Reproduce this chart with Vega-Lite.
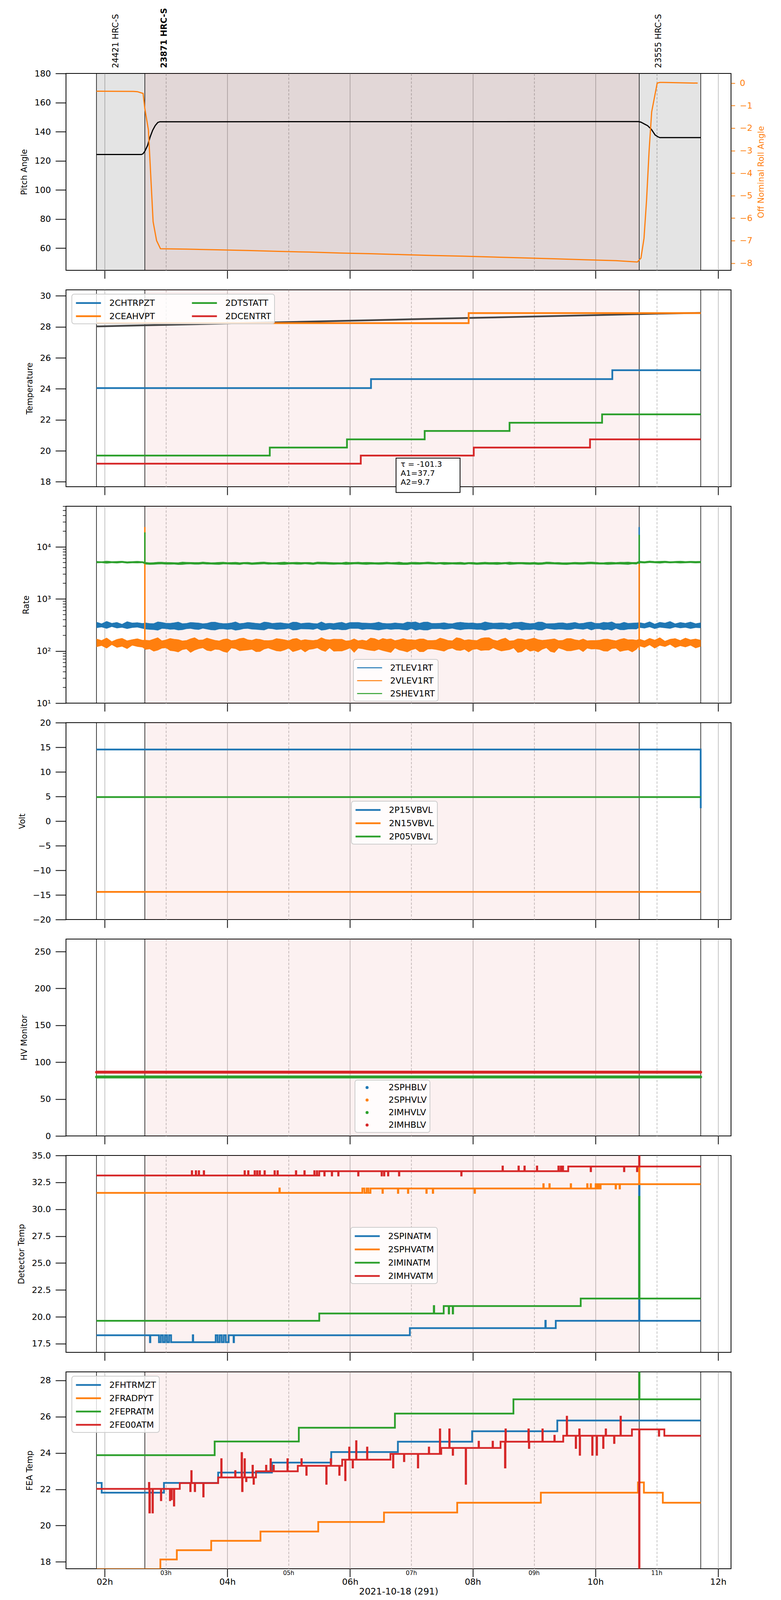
{
  "$schema": "https://vega.github.io/schema/vega-lite/v6.json",
  "background": "white",
  "padding": {"left": 43, "top": 19, "right": 10, "bottom": 0},
  "config": {
    "font": "DejaVu Sans",
    "view": {"stroke": "black", "strokeWidth": 2},
    "axis": {
      "labelFont": "DejaVu Sans", "titleFont": "DejaVu Sans",
      "labelFontSize": 22, "titleFontSize": 21, "titleFontWeight": "normal",
      "labelColor": "black", "titleColor": "black", "tickColor": "black",
      "tickWidth": 2, "domain": false, "grid": false,
      "labelFlush": false, "labelOverlap": false
    },
    "axisY": {"tickSize": 27, "labelPadding": 12, "titlePadding": 16},
    "legend": {
      "labelFont": "DejaVu Sans", "labelFontSize": 22, "labelColor": "black",
      "fillColor": "rgba(255,255,255,0.8)", "strokeColor": "#cccccc", "strokeWidth": 2,
      "cornerRadius": 6, "padding": 8
    }
  },
  "datasets": {
    "obs": [
      {"o": "24421", "lab": "24421 HRC-S", "a": 112, "b": 159.3},
      {"o": "23871", "lab": "23871 HRC-S", "a": 159.3, "b": 642.8},
      {"o": "23555", "lab": "23555 HRC-S", "a": 642.8, "b": 703}
    ],
    "edges": [{"m": 112}, {"m": 159.3}, {"m": 642.8}, {"m": 703}],
    "minorhours": [{"m": 180, "lab": "03h"}, {"m": 300, "lab": "05h"}, {"m": 420, "lab": "07h"}, {"m": 540, "lab": "09h"}, {"m": 660, "lab": "11h"}],
    "logminor": [{"t":20},{"t":30},{"t":40},{"t":50},{"t":60},{"t":70},{"t":80},{"t":90},{"t":200},{"t":300},{"t":400},{"t":500},{"t":600},{"t":700},{"t":800},{"t":900},{"t":2000},{"t":3000},{"t":4000},{"t":5000},{"t":6000},{"t":7000},{"t":8000},{"t":9000},{"t":20000},{"t":30000},{"t":40000},{"t":50000},{"t":60000}],
    "pitch": [
      {"m": 112, "v": 124.3}, {"m": 156, "v": 124.3}, {"m": 157.5, "v": 124.8}, {"m": 159.3, "v": 126.5},
      {"m": 162, "v": 130.5}, {"m": 164.5, "v": 136.4}, {"m": 167, "v": 141}, {"m": 169.5, "v": 144.2},
      {"m": 172, "v": 146.3}, {"m": 174, "v": 146.8}, {"m": 642, "v": 146.9}, {"m": 644.5, "v": 146.5},
      {"m": 648, "v": 145.2}, {"m": 651, "v": 144.1}, {"m": 654.6, "v": 141.7}, {"m": 658.4, "v": 137.7},
      {"m": 661, "v": 136.5}, {"m": 663, "v": 135.9}, {"m": 703, "v": 135.9}
    ],
    "roll": [
      {"m": 112, "v": -0.36}, {"m": 130, "v": -0.365}, {"m": 148, "v": -0.37}, {"m": 152, "v": -0.38},
      {"m": 157.6, "v": -0.46}, {"m": 159.3, "v": -1.13}, {"m": 162.8, "v": -2.08}, {"m": 167.4, "v": -6.16},
      {"m": 170.8, "v": -7.0}, {"m": 174.6, "v": -7.36}, {"m": 200, "v": -7.38}, {"m": 230, "v": -7.41},
      {"m": 260, "v": -7.44}, {"m": 290, "v": -7.48}, {"m": 320, "v": -7.51}, {"m": 350, "v": -7.55},
      {"m": 380, "v": -7.58}, {"m": 410, "v": -7.62}, {"m": 440, "v": -7.66}, {"m": 470, "v": -7.69},
      {"m": 500, "v": -7.73}, {"m": 530, "v": -7.77}, {"m": 560, "v": -7.81}, {"m": 590, "v": -7.85},
      {"m": 620, "v": -7.89}, {"m": 641, "v": -7.95}, {"m": 644.5, "v": -7.78}, {"m": 647.5, "v": -6.9},
      {"m": 650, "v": -5.2}, {"m": 652.5, "v": -3.0}, {"m": 655, "v": -1.28}, {"m": 660.4, "v": 0.0},
      {"m": 663, "v": 0.03}, {"m": 666.5, "v": 0.03}, {"m": 700, "v": 0.0}
    ],
    "p2": [
      {"m": 112, "s": "2CHTRPZT", "v": 24.05}, {"m": 380.5, "s": "2CHTRPZT", "v": 24.63}, {"m": 616.5, "s": "2CHTRPZT", "v": 25.2}, {"m": 703, "s": "2CHTRPZT", "v": 25.2},
      {"m": 112, "s": "2CEAHVPT", "v": 28.24}, {"m": 476, "s": "2CEAHVPT", "v": 28.89}, {"m": 703, "s": "2CEAHVPT", "v": 28.89},
      {"m": 112, "s": "2DTSTATT", "v": 19.69}, {"m": 281.5, "s": "2DTSTATT", "v": 20.21}, {"m": 357, "s": "2DTSTATT", "v": 20.74}, {"m": 433, "s": "2DTSTATT", "v": 21.28}, {"m": 516, "s": "2DTSTATT", "v": 21.81}, {"m": 606.5, "s": "2DTSTATT", "v": 22.35}, {"m": 703, "s": "2DTSTATT", "v": 22.35},
      {"m": 112, "s": "2DCENTRT", "v": 19.17}, {"m": 370.5, "s": "2DCENTRT", "v": 19.69}, {"m": 481, "s": "2DCENTRT", "v": 20.21}, {"m": 594.7, "s": "2DCENTRT", "v": 20.74}, {"m": 703, "s": "2DCENTRT", "v": 20.74}
    ],
    "p2fit": [
      {"m": 112, "v": 28.03}, {"m": 160, "v": 28.1}, {"m": 240, "v": 28.22}, {"m": 300, "v": 28.31},
      {"m": 360, "v": 28.4}, {"m": 420, "v": 28.49}, {"m": 480, "v": 28.58}, {"m": 540, "v": 28.67},
      {"m": 600, "v": 28.76}, {"m": 660, "v": 28.85}, {"m": 703, "v": 28.9}
    ],
    "p2note": [
      {"m0": 405, "m1": 467.6, "y0": 17.31, "y1": 19.53, "tx": 409.5, "ty": 19.36, "txt": "τ = -101.3\nA1=37.7\nA2=9.7"}
    ],
    "p3": [
      {"m":112,"bl":276,"bh":360,"ol":119,"oh":171,"gl":4860,"gh":5300},
      {"m":117,"bl":287,"bh":335,"ol":126,"oh":160,"gl":4910,"gh":5220},
      {"m":122,"bl":268,"bh":372,"ol":112,"oh":179,"gl":4790,"gh":5360},
      {"m":127,"bl":291,"bh":342,"ol":131,"oh":152,"gl":4880,"gh":5250},
      {"m":132,"bl":273,"bh":356,"ol":116,"oh":168,"gl":4830,"gh":5280},
      {"m":137,"bl":281,"bh":328,"ol":122,"oh":176,"gl":4920,"gh":5330},
      {"m":142,"bl":266,"bh":368,"ol":110,"oh":158,"gl":4800,"gh":5200},
      {"m":147,"bl":279,"bh":347,"ol":128,"oh":166,"gl":4870,"gh":5260},
      {"m":152,"bl":284,"bh":352,"ol":121,"oh":173,"gl":4850,"gh":5310},
      {"m":157,"bl":270,"bh":340,"ol":117,"oh":162,"gl":4890,"gh":5240},
      {"m":160,"bl":262,"bh":348,"ol":106,"oh":162,"gl":4600,"gh":5060},
      {"m":164,"bl":257,"bh":339,"ol":109,"oh":160,"gl":4550,"gh":4980},
      {"m":168,"bl":255,"bh":338,"ol":98,"oh":170,"gl":4560,"gh":5010},
      {"m":172,"bl":248,"bh":364,"ol":103,"oh":181,"gl":4620,"gh":5100},
      {"m":176,"bl":268,"bh":356,"ol":112,"oh":158,"gl":4640,"gh":5110},
      {"m":180,"bl":266,"bh":343,"ol":114,"oh":164,"gl":4570,"gh":5040},
      {"m":184,"bl":258,"bh":342,"ol":101,"oh":175,"gl":4580,"gh":5040},
      {"m":188,"bl":260,"bh":350,"ol":99,"oh":169,"gl":4600,"gh":5010},
      {"m":192,"bl":250,"bh":362,"ol":95,"oh":166,"gl":4530,"gh":4990},
      {"m":196,"bl":254,"bh":337,"ol":105,"oh":157,"gl":4540,"gh":5120},
      {"m":200,"bl":265,"bh":340,"ol":109,"oh":160,"gl":4620,"gh":5080},
      {"m":204,"bl":269,"bh":355,"ol":93,"oh":172,"gl":4630,"gh":5060},
      {"m":208,"bl":259,"bh":351,"ol":103,"oh":181,"gl":4570,"gh":5030},
      {"m":212,"bl":256,"bh":346,"ol":110,"oh":163,"gl":4580,"gh":5030},
      {"m":216,"bl":271,"bh":336,"ol":114,"oh":164,"gl":4650,"gh":5130},
      {"m":220,"bl":262,"bh":341,"ol":102,"oh":178,"gl":4600,"gh":5060},
      {"m":224,"bl":253,"bh":358,"ol":99,"oh":169,"gl":4590,"gh":5000},
      {"m":228,"bl":251,"bh":360,"ol":107,"oh":161,"gl":4560,"gh":5010},
      {"m":232,"bl":263,"bh":345,"ol":105,"oh":157,"gl":4540,"gh":5070},
      {"m":236,"bl":264,"bh":338,"ol":97,"oh":168,"gl":4640,"gh":5110},
      {"m":240,"bl":257,"bh":339,"ol":93,"oh":172,"gl":4610,"gh":5020},
      {"m":244,"bl":262,"bh":348,"ol":113,"oh":159,"gl":4580,"gh":5040},
      {"m":248,"bl":248,"bh":364,"ol":110,"oh":163,"gl":4580,"gh":5090},
      {"m":252,"bl":255,"bh":338,"ol":100,"oh":174,"gl":4530,"gh":4990},
      {"m":256,"bl":266,"bh":343,"ol":102,"oh":178,"gl":4660,"gh":5050},
      {"m":260,"bl":268,"bh":356,"ol":104,"oh":165,"gl":4620,"gh":5080},
      {"m":264,"bl":260,"bh":350,"ol":107,"oh":161,"gl":4550,"gh":4980},
      {"m":268,"bl":258,"bh":342,"ol":96,"oh":171,"gl":4570,"gh":5030},
      {"m":272,"bl":254,"bh":337,"ol":97,"oh":168,"gl":4620,"gh":5100},
      {"m":276,"bl":250,"bh":362,"ol":108,"oh":160,"gl":4650,"gh":5130},
      {"m":280,"bl":269,"bh":355,"ol":113,"oh":159,"gl":4570,"gh":5040},
      {"m":284,"bl":265,"bh":340,"ol":106,"oh":162,"gl":4590,"gh":5000},
      {"m":288,"bl":256,"bh":346,"ol":100,"oh":174,"gl":4600,"gh":5010},
      {"m":292,"bl":259,"bh":351,"ol":98,"oh":170,"gl":4540,"gh":5070},
      {"m":296,"bl":262,"bh":341,"ol":104,"oh":165,"gl":4540,"gh":5120},
      {"m":300,"bl":271,"bh":336,"ol":112,"oh":158,"gl":4610,"gh":5020},
      {"m":304,"bl":251,"bh":360,"ol":96,"oh":171,"gl":4630,"gh":5060},
      {"m":308,"bl":253,"bh":358,"ol":101,"oh":175,"gl":4580,"gh":5090},
      {"m":312,"bl":264,"bh":338,"ol":108,"oh":160,"gl":4580,"gh":5030},
      {"m":316,"bl":263,"bh":345,"ol":95,"oh":166,"gl":4660,"gh":5050},
      {"m":320,"bl":262,"bh":348,"ol":106,"oh":162,"gl":4600,"gh":5060},
      {"m":324,"bl":257,"bh":339,"ol":109,"oh":160,"gl":4550,"gh":4980},
      {"m":328,"bl":271,"bh":336,"ol":114,"oh":164,"gl":4650,"gh":5130},
      {"m":332,"bl":248,"bh":364,"ol":103,"oh":181,"gl":4620,"gh":5100},
      {"m":336,"bl":254,"bh":337,"ol":97,"oh":168,"gl":4620,"gh":5100},
      {"m":340,"bl":266,"bh":343,"ol":114,"oh":164,"gl":4570,"gh":5040},
      {"m":344,"bl":255,"bh":338,"ol":98,"oh":170,"gl":4560,"gh":5010},
      {"m":348,"bl":260,"bh":350,"ol":99,"oh":169,"gl":4600,"gh":5010},
      {"m":352,"bl":253,"bh":358,"ol":99,"oh":169,"gl":4590,"gh":5000},
      {"m":356,"bl":254,"bh":337,"ol":105,"oh":157,"gl":4540,"gh":5120},
      {"m":360,"bl":269,"bh":355,"ol":113,"oh":159,"gl":4570,"gh":5040},
      {"m":364,"bl":269,"bh":355,"ol":93,"oh":172,"gl":4630,"gh":5060},
      {"m":368,"bl":268,"bh":356,"ol":112,"oh":158,"gl":4640,"gh":5110},
      {"m":372,"bl":256,"bh":346,"ol":110,"oh":163,"gl":4580,"gh":5030},
      {"m":376,"bl":263,"bh":345,"ol":105,"oh":157,"gl":4540,"gh":5070},
      {"m":380,"bl":262,"bh":341,"ol":102,"oh":178,"gl":4600,"gh":5060},
      {"m":384,"bl":256,"bh":346,"ol":100,"oh":174,"gl":4600,"gh":5010},
      {"m":388,"bl":251,"bh":360,"ol":107,"oh":161,"gl":4560,"gh":5010},
      {"m":392,"bl":258,"bh":342,"ol":101,"oh":175,"gl":4580,"gh":5040},
      {"m":396,"bl":264,"bh":338,"ol":97,"oh":168,"gl":4640,"gh":5110},
      {"m":400,"bl":257,"bh":339,"ol":93,"oh":172,"gl":4610,"gh":5020},
      {"m":404,"bl":262,"bh":348,"ol":113,"oh":159,"gl":4580,"gh":5040},
      {"m":408,"bl":262,"bh":341,"ol":104,"oh":165,"gl":4540,"gh":5120},
      {"m":412,"bl":255,"bh":338,"ol":100,"oh":174,"gl":4530,"gh":4990},
      {"m":416,"bl":250,"bh":362,"ol":95,"oh":166,"gl":4530,"gh":4990},
      {"m":420,"bl":268,"bh":356,"ol":104,"oh":165,"gl":4620,"gh":5080},
      {"m":424,"bl":248,"bh":364,"ol":110,"oh":163,"gl":4580,"gh":5090},
      {"m":428,"bl":258,"bh":342,"ol":96,"oh":171,"gl":4570,"gh":5030},
      {"m":432,"bl":251,"bh":360,"ol":96,"oh":171,"gl":4630,"gh":5060},
      {"m":436,"bl":250,"bh":362,"ol":108,"oh":160,"gl":4650,"gh":5130},
      {"m":440,"bl":265,"bh":340,"ol":109,"oh":160,"gl":4620,"gh":5080},
      {"m":444,"bl":265,"bh":340,"ol":106,"oh":162,"gl":4590,"gh":5000},
      {"m":448,"bl":266,"bh":343,"ol":102,"oh":178,"gl":4660,"gh":5050},
      {"m":452,"bl":259,"bh":351,"ol":98,"oh":170,"gl":4540,"gh":5070},
      {"m":456,"bl":264,"bh":338,"ol":108,"oh":160,"gl":4580,"gh":5030},
      {"m":460,"bl":271,"bh":336,"ol":112,"oh":158,"gl":4610,"gh":5020},
      {"m":464,"bl":259,"bh":351,"ol":103,"oh":181,"gl":4570,"gh":5030},
      {"m":468,"bl":253,"bh":358,"ol":101,"oh":175,"gl":4580,"gh":5090},
      {"m":472,"bl":260,"bh":350,"ol":107,"oh":161,"gl":4550,"gh":4980},
      {"m":476,"bl":263,"bh":345,"ol":95,"oh":166,"gl":4660,"gh":5050},
      {"m":480,"bl":262,"bh":348,"ol":106,"oh":162,"gl":4600,"gh":5060},
      {"m":484,"bl":257,"bh":339,"ol":109,"oh":160,"gl":4550,"gh":4980},
      {"m":488,"bl":258,"bh":342,"ol":101,"oh":175,"gl":4580,"gh":5040},
      {"m":492,"bl":248,"bh":364,"ol":103,"oh":181,"gl":4620,"gh":5100},
      {"m":496,"bl":259,"bh":351,"ol":103,"oh":181,"gl":4570,"gh":5030},
      {"m":500,"bl":266,"bh":343,"ol":114,"oh":164,"gl":4570,"gh":5040},
      {"m":504,"bl":263,"bh":345,"ol":105,"oh":157,"gl":4540,"gh":5070},
      {"m":508,"bl":260,"bh":350,"ol":99,"oh":169,"gl":4600,"gh":5010},
      {"m":512,"bl":266,"bh":343,"ol":102,"oh":178,"gl":4660,"gh":5050},
      {"m":516,"bl":254,"bh":337,"ol":105,"oh":157,"gl":4540,"gh":5120},
      {"m":520,"bl":269,"bh":355,"ol":113,"oh":159,"gl":4570,"gh":5040},
      {"m":524,"bl":269,"bh":355,"ol":93,"oh":172,"gl":4630,"gh":5060},
      {"m":528,"bl":251,"bh":360,"ol":96,"oh":171,"gl":4630,"gh":5060},
      {"m":532,"bl":256,"bh":346,"ol":110,"oh":163,"gl":4580,"gh":5030},
      {"m":536,"bl":255,"bh":338,"ol":98,"oh":170,"gl":4560,"gh":5010},
      {"m":540,"bl":262,"bh":341,"ol":102,"oh":178,"gl":4600,"gh":5060},
      {"m":544,"bl":250,"bh":362,"ol":95,"oh":166,"gl":4530,"gh":4990},
      {"m":548,"bl":251,"bh":360,"ol":107,"oh":161,"gl":4560,"gh":5010},
      {"m":552,"bl":271,"bh":336,"ol":114,"oh":164,"gl":4650,"gh":5130},
      {"m":556,"bl":264,"bh":338,"ol":97,"oh":168,"gl":4640,"gh":5110},
      {"m":560,"bl":257,"bh":339,"ol":93,"oh":172,"gl":4610,"gh":5020},
      {"m":564,"bl":262,"bh":348,"ol":113,"oh":159,"gl":4580,"gh":5040},
      {"m":568,"bl":260,"bh":350,"ol":107,"oh":161,"gl":4550,"gh":4980},
      {"m":572,"bl":255,"bh":338,"ol":100,"oh":174,"gl":4530,"gh":4990},
      {"m":576,"bl":256,"bh":346,"ol":100,"oh":174,"gl":4600,"gh":5010},
      {"m":580,"bl":268,"bh":356,"ol":104,"oh":165,"gl":4620,"gh":5080},
      {"m":584,"bl":264,"bh":338,"ol":108,"oh":160,"gl":4580,"gh":5030},
      {"m":588,"bl":258,"bh":342,"ol":96,"oh":171,"gl":4570,"gh":5030},
      {"m":592,"bl":268,"bh":356,"ol":112,"oh":158,"gl":4640,"gh":5110},
      {"m":596,"bl":250,"bh":362,"ol":108,"oh":160,"gl":4650,"gh":5130},
      {"m":600,"bl":265,"bh":340,"ol":109,"oh":160,"gl":4620,"gh":5080},
      {"m":604,"bl":265,"bh":340,"ol":106,"oh":162,"gl":4590,"gh":5000},
      {"m":608,"bl":253,"bh":358,"ol":99,"oh":169,"gl":4590,"gh":5000},
      {"m":612,"bl":259,"bh":351,"ol":98,"oh":170,"gl":4540,"gh":5070},
      {"m":616,"bl":248,"bh":364,"ol":110,"oh":163,"gl":4580,"gh":5090},
      {"m":620,"bl":271,"bh":336,"ol":112,"oh":158,"gl":4610,"gh":5020},
      {"m":624,"bl":254,"bh":337,"ol":97,"oh":168,"gl":4620,"gh":5100},
      {"m":628,"bl":253,"bh":358,"ol":101,"oh":175,"gl":4580,"gh":5090},
      {"m":632,"bl":262,"bh":341,"ol":104,"oh":165,"gl":4540,"gh":5120},
      {"m":636,"bl":263,"bh":345,"ol":95,"oh":166,"gl":4660,"gh":5050},
      {"m":640,"bl":262,"bh":348,"ol":106,"oh":162,"gl":4600,"gh":5060},
      {"m":643,"bl":280,"bh":352,"ol":124,"oh":170,"gl":4880,"gh":5320},
      {"m":648,"bl":272,"bh":338,"ol":116,"oh":158,"gl":4830,"gh":5240},
      {"m":653,"bl":288,"bh":366,"ol":130,"oh":176,"gl":4920,"gh":5380},
      {"m":658,"bl":266,"bh":330,"ol":112,"oh":163,"gl":4860,"gh":5270},
      {"m":663,"bl":283,"bh":358,"ol":127,"oh":181,"gl":4800,"gh":5300},
      {"m":668,"bl":276,"bh":345,"ol":120,"oh":155,"gl":4900,"gh":5350},
      {"m":673,"bl":269,"bh":371,"ol":133,"oh":169,"gl":4850,"gh":5230},
      {"m":678,"bl":286,"bh":334,"ol":115,"oh":174,"gl":4890,"gh":5290},
      {"m":683,"bl":274,"bh":355,"ol":125,"oh":160,"gl":4820,"gh":5340},
      {"m":688,"bl":281,"bh":342,"ol":118,"oh":178,"gl":4870,"gh":5260},
      {"m":693,"bl":267,"bh":362,"ol":128,"oh":165,"gl":4910,"gh":5310},
      {"m":698,"bl":279,"bh":336,"ol":113,"oh":171,"gl":4840,"gh":5280},
      {"m":703,"bl":275,"bh":350,"ol":122,"oh":162,"gl":4880,"gh":5300}
    ],
    "p3spk": [
      {"m0": 642.1, "m1": 643.5, "s": "2TLEV1RT", "lo": 300, "hi": 24000},
      {"m0": 158.6, "m1": 160.0, "s": "2VLEV1RT", "lo": 110, "hi": 24000},
      {"m0": 642.1, "m1": 643.5, "s": "2VLEV1RT", "lo": 105, "hi": 4800},
      {"m0": 158.6, "m1": 160.0, "s": "2SHEV1RT", "lo": 4700, "hi": 19000},
      {"m0": 642.1, "m1": 643.5, "s": "2SHEV1RT", "lo": 4700, "hi": 17000}
    ],
    "p4": [
      {"m": 112, "s": "2P15VBVL", "v": 14.55}, {"m": 702.9, "s": "2P15VBVL", "v": 14.55}, {"m": 703, "s": "2P15VBVL", "v": 2.62},
      {"m": 112, "s": "2N15VBVL", "v": -14.38}, {"m": 703, "s": "2N15VBVL", "v": -14.38},
      {"m": 112, "s": "2P05VBVL", "v": 4.88}, {"m": 703, "s": "2P05VBVL", "v": 4.88}
    ],
    "p5": [
      {"m": 112, "s": "2IMHVLV", "v": 80}, {"m": 703, "s": "2IMHVLV", "v": 80},
      {"m": 112, "s": "2IMHBLV", "v": 86.5}, {"m": 703, "s": "2IMHBLV", "v": 86.5}
    ],
    "p6": [
      {"m":112,"s":"2SPINATM","v":18.29},{"m":164.3,"s":"2SPINATM","v":17.64},{"m":164.7,"s":"2SPINATM","v":18.29},{"m":173.1,"s":"2SPINATM","v":17.64},{"m":175,"s":"2SPINATM","v":18.29},{"m":177,"s":"2SPINATM","v":17.64},{"m":179,"s":"2SPINATM","v":18.29},{"m":181,"s":"2SPINATM","v":17.64},{"m":183,"s":"2SPINATM","v":18.29},{"m":185,"s":"2SPINATM","v":17.64},{"m":206.2,"s":"2SPINATM","v":18.29},{"m":206.6,"s":"2SPINATM","v":17.64},{"m":228.6,"s":"2SPINATM","v":18.29},{"m":230.5,"s":"2SPINATM","v":17.64},{"m":232.5,"s":"2SPINATM","v":18.29},{"m":234.5,"s":"2SPINATM","v":17.64},{"m":236.5,"s":"2SPINATM","v":18.29},{"m":238.5,"s":"2SPINATM","v":17.64},{"m":241.3,"s":"2SPINATM","v":18.29},{"m":246.1,"s":"2SPINATM","v":17.64},{"m":246.5,"s":"2SPINATM","v":18.29},{"m":418.5,"s":"2SPINATM","v":18.95},{"m":551,"s":"2SPINATM","v":19.63},{"m":551.4,"s":"2SPINATM","v":18.95},{"m":561.2,"s":"2SPINATM","v":19.63},{"m":642.7,"s":"2SPINATM","v":32.2},{"m":643.1,"s":"2SPINATM","v":19.63},{"m":703,"s":"2SPINATM","v":19.63},
      {"m":112,"s":"2SPHVATM","v":31.52},{"m":290.9,"s":"2SPHVATM","v":31.93},{"m":291.3,"s":"2SPHVATM","v":31.52},{"m":372,"s":"2SPHVATM","v":31.93},{"m":374,"s":"2SPHVATM","v":31.52},{"m":376.2,"s":"2SPHVATM","v":31.93},{"m":378,"s":"2SPHVATM","v":31.52},{"m":380,"s":"2SPHVATM","v":31.93},{"m":391.7,"s":"2SPHVATM","v":31.52},{"m":392.1,"s":"2SPHVATM","v":31.93},{"m":406.8,"s":"2SPHVATM","v":31.52},{"m":407.2,"s":"2SPHVATM","v":31.93},{"m":416.6,"s":"2SPHVATM","v":31.52},{"m":417,"s":"2SPHVATM","v":31.93},{"m":434.6,"s":"2SPHVATM","v":31.52},{"m":435,"s":"2SPHVATM","v":31.93},{"m":440.9,"s":"2SPHVATM","v":31.52},{"m":441.3,"s":"2SPHVATM","v":31.93},{"m":481.8,"s":"2SPHVATM","v":31.52},{"m":482.2,"s":"2SPHVATM","v":31.93},{"m":549,"s":"2SPHVATM","v":32.33},{"m":549.4,"s":"2SPHVATM","v":31.93},{"m":554.9,"s":"2SPHVATM","v":32.33},{"m":555.3,"s":"2SPHVATM","v":31.93},{"m":575.8,"s":"2SPHVATM","v":32.33},{"m":576.2,"s":"2SPHVATM","v":31.93},{"m":591.9,"s":"2SPHVATM","v":32.33},{"m":592.3,"s":"2SPHVATM","v":31.93},{"m":595.3,"s":"2SPHVATM","v":32.33},{"m":595.7,"s":"2SPHVATM","v":31.93},{"m":600.2,"s":"2SPHVATM","v":32.33},{"m":600.6,"s":"2SPHVATM","v":31.93},{"m":602,"s":"2SPHVATM","v":32.33},{"m":603.5,"s":"2SPHVATM","v":31.93},{"m":605.1,"s":"2SPHVATM","v":32.33},{"m":619.7,"s":"2SPHVATM","v":31.93},{"m":620.1,"s":"2SPHVATM","v":32.33},{"m":623.6,"s":"2SPHVATM","v":31.93},{"m":624,"s":"2SPHVATM","v":32.33},{"m":642.7,"s":"2SPHVATM","v":33.82},{"m":643.1,"s":"2SPHVATM","v":32.33},{"m":703,"s":"2SPHVATM","v":32.33},
      {"m":112,"s":"2IMINATM","v":19.63},{"m":329.9,"s":"2IMINATM","v":20.31},{"m":441.9,"s":"2IMINATM","v":21.0},{"m":442.3,"s":"2IMINATM","v":20.31},{"m":451.6,"s":"2IMINATM","v":21.0},{"m":456.5,"s":"2IMINATM","v":20.31},{"m":456.9,"s":"2IMINATM","v":21.0},{"m":460.4,"s":"2IMINATM","v":20.31},{"m":460.8,"s":"2IMINATM","v":21.0},{"m":585.6,"s":"2IMINATM","v":21.7},{"m":642.7,"s":"2IMINATM","v":31.15},{"m":643.1,"s":"2IMINATM","v":21.7},{"m":703,"s":"2IMINATM","v":21.7},
      {"m":112,"s":"2IMHVATM","v":33.14},
      {"m":205.2,"s":"2IMHVATM","v":33.54},{"m":205.6,"s":"2IMHVATM","v":33.14},{"m":209.1,"s":"2IMHVATM","v":33.54},{"m":209.5,"s":"2IMHVATM","v":33.14},{"m":212,"s":"2IMHVATM","v":33.54},{"m":212.4,"s":"2IMHVATM","v":33.14},{"m":216.9,"s":"2IMHVATM","v":33.54},{"m":217.3,"s":"2IMHVATM","v":33.14},
      {"m":256.8,"s":"2IMHVATM","v":33.54},{"m":257.2,"s":"2IMHVATM","v":33.14},{"m":260.3,"s":"2IMHVATM","v":33.54},{"m":260.7,"s":"2IMHVATM","v":33.14},{"m":266.6,"s":"2IMHVATM","v":33.54},{"m":267,"s":"2IMHVATM","v":33.14},{"m":269,"s":"2IMHVATM","v":33.54},{"m":269.4,"s":"2IMHVATM","v":33.14},{"m":271.5,"s":"2IMHVATM","v":33.54},{"m":271.9,"s":"2IMHVATM","v":33.14},{"m":276.3,"s":"2IMHVATM","v":33.54},{"m":276.7,"s":"2IMHVATM","v":33.14},
      {"m":286.1,"s":"2IMHVATM","v":33.54},{"m":286.5,"s":"2IMHVATM","v":33.14},{"m":289,"s":"2IMHVATM","v":33.54},{"m":289.4,"s":"2IMHVATM","v":33.14},{"m":307,"s":"2IMHVATM","v":33.54},{"m":307.4,"s":"2IMHVATM","v":33.14},{"m":315.3,"s":"2IMHVATM","v":33.54},{"m":315.7,"s":"2IMHVATM","v":33.14},{"m":325,"s":"2IMHVATM","v":33.54},{"m":325.4,"s":"2IMHVATM","v":33.14},{"m":327.5,"s":"2IMHVATM","v":33.54},{"m":327.9,"s":"2IMHVATM","v":33.14},
      {"m":329.9,"s":"2IMHVATM","v":33.54},
      {"m":334.8,"s":"2IMHVATM","v":33.14},{"m":335.2,"s":"2IMHVATM","v":33.54},{"m":342.1,"s":"2IMHVATM","v":33.14},{"m":342.5,"s":"2IMHVATM","v":33.54},{"m":348.4,"s":"2IMHVATM","v":33.14},{"m":348.8,"s":"2IMHVATM","v":33.54},{"m":367.9,"s":"2IMHVATM","v":33.14},{"m":368.3,"s":"2IMHVATM","v":33.54},{"m":390.8,"s":"2IMHVATM","v":33.14},{"m":391.2,"s":"2IMHVATM","v":33.54},{"m":393.2,"s":"2IMHVATM","v":33.14},{"m":393.6,"s":"2IMHVATM","v":33.54},{"m":397.1,"s":"2IMHVATM","v":33.14},{"m":397.5,"s":"2IMHVATM","v":33.54},{"m":407.8,"s":"2IMHVATM","v":33.14},{"m":408.2,"s":"2IMHVATM","v":33.54},{"m":468.7,"s":"2IMHVATM","v":33.14},{"m":469.1,"s":"2IMHVATM","v":33.54},
      {"m":509.1,"s":"2IMHVATM","v":33.97},{"m":509.5,"s":"2IMHVATM","v":33.54},{"m":524.7,"s":"2IMHVATM","v":33.97},{"m":525.1,"s":"2IMHVATM","v":33.54},{"m":530.5,"s":"2IMHVATM","v":33.97},{"m":530.9,"s":"2IMHVATM","v":33.54},{"m":542.7,"s":"2IMHVATM","v":33.97},{"m":543.1,"s":"2IMHVATM","v":33.54},{"m":563.7,"s":"2IMHVATM","v":33.97},{"m":564.1,"s":"2IMHVATM","v":33.54},{"m":566,"s":"2IMHVATM","v":33.97},{"m":566.4,"s":"2IMHVATM","v":33.54},{"m":568,"s":"2IMHVATM","v":33.97},{"m":568.4,"s":"2IMHVATM","v":33.54},
      {"m":573.4,"s":"2IMHVATM","v":33.97},
      {"m":595.3,"s":"2IMHVATM","v":33.54},{"m":595.7,"s":"2IMHVATM","v":33.97},{"m":627.9,"s":"2IMHVATM","v":33.54},{"m":628.3,"s":"2IMHVATM","v":33.97},{"m":640.6,"s":"2IMHVATM","v":33.54},{"m":641,"s":"2IMHVATM","v":33.97},
      {"m":642.7,"s":"2IMHVATM","v":35.5},{"m":643.1,"s":"2IMHVATM","v":33.97},{"m":703,"s":"2IMHVATM","v":33.97}
    ],
    "p7": [
      {"m":112,"s":"2FHTRMZT","v":22.35},{"m":117.1,"s":"2FHTRMZT","v":21.81},{"m":178,"s":"2FHTRMZT","v":22.35},{"m":231,"s":"2FHTRMZT","v":22.92},{"m":283.6,"s":"2FHTRMZT","v":23.47},{"m":341.6,"s":"2FHTRMZT","v":24.05},{"m":406.8,"s":"2FHTRMZT","v":24.62},{"m":479.4,"s":"2FHTRMZT","v":25.2},{"m":562.7,"s":"2FHTRMZT","v":25.79},{"m":703,"s":"2FHTRMZT","v":25.79},
      {"m":112,"s":"2FRADPYT","v":17.6},{"m":174.5,"s":"2FRADPYT","v":18.13},{"m":190.6,"s":"2FRADPYT","v":18.64},{"m":224.2,"s":"2FRADPYT","v":19.16},{"m":272.4,"s":"2FRADPYT","v":19.67},{"m":328.9,"s":"2FRADPYT","v":20.2},{"m":393.2,"s":"2FRADPYT","v":20.72},{"m":464.8,"s":"2FRADPYT","v":21.26},{"m":546.6,"s":"2FRADPYT","v":21.81},{"m":641.6,"s":"2FRADPYT","v":22.38},{"m":647.4,"s":"2FRADPYT","v":21.81},{"m":665.9,"s":"2FRADPYT","v":21.26},{"m":703,"s":"2FRADPYT","v":21.26},
      {"m":112,"s":"2FEPRATM","v":23.88},{"m":227.6,"s":"2FEPRATM","v":24.63},{"m":309.9,"s":"2FEPRATM","v":25.39},{"m":403.9,"s":"2FEPRATM","v":26.17},{"m":519.8,"s":"2FEPRATM","v":26.96},{"m":642.7,"s":"2FEPRATM","v":30},{"m":643.1,"s":"2FEPRATM","v":26.96},{"m":703,"s":"2FEPRATM","v":26.96},
      {"m":112,"s":"2FE00ATM","v":22.02},{"m":163.3,"s":"2FE00ATM","v":22.35},{"m":163.7,"s":"2FE00ATM","v":20.72},{"m":164.3,"s":"2FE00ATM","v":22.02},{"m":166.8,"s":"2FE00ATM","v":20.72},{"m":167.2,"s":"2FE00ATM","v":22.02},{"m":175,"s":"2FE00ATM","v":21.4},{"m":175.4,"s":"2FE00ATM","v":22.02},{"m":183.8,"s":"2FE00ATM","v":21.4},{"m":184.2,"s":"2FE00ATM","v":22.02},{"m":185.3,"s":"2FE00ATM","v":21.45},{"m":185.7,"s":"2FE00ATM","v":22.02},{"m":187.7,"s":"2FE00ATM","v":21.1},{"m":188.1,"s":"2FE00ATM","v":22.02},
      {"m":193.5,"s":"2FE00ATM","v":22.34},{"m":203.7,"s":"2FE00ATM","v":21.9},{"m":204.1,"s":"2FE00ATM","v":22.34},{"m":204.7,"s":"2FE00ATM","v":23.0},{"m":205.1,"s":"2FE00ATM","v":22.34},{"m":208.1,"s":"2FE00ATM","v":21.9},{"m":208.5,"s":"2FE00ATM","v":22.34},{"m":216.4,"s":"2FE00ATM","v":21.6},{"m":216.8,"s":"2FE00ATM","v":22.34},
      {"m":231,"s":"2FE00ATM","v":22.65},{"m":234,"s":"2FE00ATM","v":23.66},{"m":234.4,"s":"2FE00ATM","v":22.65},{"m":247.6,"s":"2FE00ATM","v":23.0},{"m":248,"s":"2FE00ATM","v":22.65},{"m":253.9,"s":"2FE00ATM","v":24.0},{"m":254.4,"s":"2FE00ATM","v":21.9},{"m":254.9,"s":"2FE00ATM","v":22.65},{"m":256.8,"s":"2FE00ATM","v":23.66},{"m":257.2,"s":"2FE00ATM","v":22.65},{"m":258.3,"s":"2FE00ATM","v":22.45},{"m":258.7,"s":"2FE00ATM","v":22.65},{"m":264.6,"s":"2FE00ATM","v":23.3},{"m":265,"s":"2FE00ATM","v":22.65},{"m":265.6,"s":"2FE00ATM","v":22.3},{"m":266,"s":"2FE00ATM","v":22.65},
      {"m":268,"s":"2FE00ATM","v":22.99},{"m":277.8,"s":"2FE00ATM","v":23.3},{"m":278.2,"s":"2FE00ATM","v":22.99},{"m":282.2,"s":"2FE00ATM","v":23.66},{"m":282.6,"s":"2FE00ATM","v":22.99},{"m":285.1,"s":"2FE00ATM","v":23.3},{"m":285.5,"s":"2FE00ATM","v":22.99},{"m":298.7,"s":"2FE00ATM","v":23.66},{"m":299.1,"s":"2FE00ATM","v":22.99},
      {"m":308.9,"s":"2FE00ATM","v":23.29},{"m":312.4,"s":"2FE00ATM","v":23.66},{"m":312.8,"s":"2FE00ATM","v":23.29},{"m":317.2,"s":"2FE00ATM","v":22.8},{"m":317.6,"s":"2FE00ATM","v":23.29},{"m":336.7,"s":"2FE00ATM","v":22.3},{"m":337.1,"s":"2FE00ATM","v":23.29},{"m":341.1,"s":"2FE00ATM","v":23.66},{"m":341.5,"s":"2FE00ATM","v":23.29},{"m":349.4,"s":"2FE00ATM","v":22.8},{"m":349.8,"s":"2FE00ATM","v":23.29},
      {"m":352.3,"s":"2FE00ATM","v":23.63},{"m":355.2,"s":"2FE00ATM","v":22.5},{"m":355.6,"s":"2FE00ATM","v":23.63},{"m":359.1,"s":"2FE00ATM","v":24.3},{"m":359.5,"s":"2FE00ATM","v":23.63},{"m":362.5,"s":"2FE00ATM","v":23.2},{"m":362.9,"s":"2FE00ATM","v":23.63},{"m":365.9,"s":"2FE00ATM","v":24.65},{"m":366.3,"s":"2FE00ATM","v":23.63},{"m":376.6,"s":"2FE00ATM","v":24.3},{"m":377,"s":"2FE00ATM","v":23.63},
      {"m":399.5,"s":"2FE00ATM","v":23.95},{"m":402,"s":"2FE00ATM","v":23.2},{"m":402.4,"s":"2FE00ATM","v":23.95},{"m":412.7,"s":"2FE00ATM","v":23.55},{"m":413.1,"s":"2FE00ATM","v":23.95},{"m":426.3,"s":"2FE00ATM","v":23.2},{"m":426.7,"s":"2FE00ATM","v":23.95},{"m":437,"s":"2FE00ATM","v":24.3},{"m":437.4,"s":"2FE00ATM","v":23.95},{"m":447.8,"s":"2FE00ATM","v":25.3},{"m":448.2,"s":"2FE00ATM","v":23.95},
      {"m":449.2,"s":"2FE00ATM","v":24.28},{"m":457,"s":"2FE00ATM","v":25.3},{"m":457.4,"s":"2FE00ATM","v":24.28},{"m":460.4,"s":"2FE00ATM","v":23.9},{"m":460.8,"s":"2FE00ATM","v":24.28},{"m":473.1,"s":"2FE00ATM","v":22.3},{"m":473.5,"s":"2FE00ATM","v":24.28},{"m":485.7,"s":"2FE00ATM","v":24.62},{"m":486.1,"s":"2FE00ATM","v":24.28},{"m":499.4,"s":"2FE00ATM","v":24.62},{"m":499.8,"s":"2FE00ATM","v":24.28},
      {"m":507.2,"s":"2FE00ATM","v":24.62},{"m":511.5,"s":"2FE00ATM","v":23.2},{"m":512,"s":"2FE00ATM","v":25.3},{"m":512.4,"s":"2FE00ATM","v":24.62},{"m":534.4,"s":"2FE00ATM","v":25.3},{"m":534.9,"s":"2FE00ATM","v":24.28},{"m":535.3,"s":"2FE00ATM","v":24.62},{"m":548.1,"s":"2FE00ATM","v":25.3},{"m":548.5,"s":"2FE00ATM","v":24.62},{"m":559.8,"s":"2FE00ATM","v":24.95},{"m":560.2,"s":"2FE00ATM","v":24.62},
      {"m":568.5,"s":"2FE00ATM","v":24.95},{"m":571.9,"s":"2FE00ATM","v":26.0},{"m":572.3,"s":"2FE00ATM","v":24.95},{"m":580.7,"s":"2FE00ATM","v":24.28},{"m":581.1,"s":"2FE00ATM","v":24.95},{"m":584.1,"s":"2FE00ATM","v":25.3},{"m":584.6,"s":"2FE00ATM","v":23.9},{"m":585,"s":"2FE00ATM","v":24.95},{"m":596.8,"s":"2FE00ATM","v":23.9},{"m":597.2,"s":"2FE00ATM","v":24.95},{"m":601.2,"s":"2FE00ATM","v":23.9},{"m":601.6,"s":"2FE00ATM","v":24.95},{"m":607.5,"s":"2FE00ATM","v":24.28},{"m":607.9,"s":"2FE00ATM","v":24.95},{"m":610,"s":"2FE00ATM","v":25.3},{"m":610.4,"s":"2FE00ATM","v":24.95},{"m":618.2,"s":"2FE00ATM","v":24.55},{"m":618.6,"s":"2FE00ATM","v":24.95},{"m":624.5,"s":"2FE00ATM","v":26.0},{"m":624.9,"s":"2FE00ATM","v":24.95},
      {"m":635.7,"s":"2FE00ATM","v":25.3},{"m":642.7,"s":"2FE00ATM","v":15},{"m":643.1,"s":"2FE00ATM","v":25.3},{"m":662,"s":"2FE00ATM","v":24.95},{"m":662.4,"s":"2FE00ATM","v":25.3},{"m":667.4,"s":"2FE00ATM","v":24.95},{"m":703,"s":"2FE00ATM","v":24.95}
    ]
  },
  "spacing": 50,
  "bounds": "flush",
  "resolve": {"scale": {"color": "independent"}},
  "vconcat": [
    {
      "width": 1703, "height": 504,
      "layer": [
        {
          "layer": [
            {"data": {"name": "obs"}, "mark": {"type": "rect", "color": "black", "opacity": 0.105},
             "encoding": {"x": {"field": "a", "type": "quantitative", "scale": {"domain": [82.2, 732.6], "nice": false, "zero": false},
               "axis": {"values": [120,180,240,300,360,420,480,540,600,660,720], "grid": true, "gridColor": "#b0b0b0", "gridWidth": 1.5,
                 "gridDash": {"condition": {"test": "datum.value % 120 == 60", "value": [6, 4]}, "value": []},
                 "tickSize": 21, "tickOpacity": {"condition": {"test": "datum.value % 120 == 0", "value": 1}, "value": 0}, "labels": false, "title": null}},
               "x2": {"field": "b"}}},
            {"data": {"name": "obs"}, "transform": [{"filter": "datum.o == '23871'"}], "mark": {"type": "rect", "color": "#d62728", "opacity": 0.065},
             "encoding": {"x": {"field": "a", "type": "quantitative"}, "x2": {"field": "b"}}},
            {"data": {"name": "edges"}, "mark": {"type": "rule", "color": "black", "strokeWidth": 1.5},
             "encoding": {"x": {"field": "m", "type": "quantitative"}}},
            {"data": {"name": "pitch"}, "mark": {"type": "line", "color": "black", "strokeWidth": 3},
             "encoding": {"x": {"field": "m", "type": "quantitative"},
               "y": {"field": "v", "type": "quantitative", "scale": {"domain": [44.7, 180], "nice": false, "zero": false},
               "axis": {"values": [60, 80, 100, 120, 140, 160, 180], "format": "d", "title": "Pitch Angle"}}}},
            {"data": {"name": "obs"}, "transform": [{"filter": "datum.o != '23871'"}],
             "mark": {"type": "text", "angle": 270, "align": "left", "baseline": "middle", "dy": 50, "fontSize": 21, "color": "black"},
             "encoding": {"x": {"field": "a", "type": "quantitative"}, "y": {"datum": 183.7, "type": "quantitative"}, "text": {"field": "lab"}}},
            {"data": {"name": "obs"}, "transform": [{"filter": "datum.o == '23871'"}],
             "mark": {"type": "text", "angle": 270, "align": "left", "baseline": "middle", "dy": 50, "fontSize": 21, "fontWeight": "bold", "color": "black"},
             "encoding": {"x": {"field": "a", "type": "quantitative"}, "y": {"datum": 183.7, "type": "quantitative"}, "text": {"field": "lab"}}}
          ]
        },
        {"data": {"name": "roll"}, "mark": {"type": "line", "color": "#ff7f0e", "strokeWidth": 3},
         "encoding": {"x": {"field": "m", "type": "quantitative"},
           "y": {"field": "v", "type": "quantitative", "scale": {"domain": [-8.32, 0.43], "nice": false, "zero": false},
           "axis": {"orient": "right", "values": [-8, -7, -6, -5, -4, -3, -2, -1, 0], "format": "d", "title": "Off Nominal Roll Angle",
             "titleColor": "#ff7f0e", "labelColor": "#ff7f0e", "tickColor": "#ff7f0e", "tickSize": 10, "labelPadding": 12, "titlePadding": 12,
             "titleAngle": 270, "titleBaseline": "top"}}}}
      ],
      "resolve": {"scale": {"y": "independent"}}
    },
    {
      "width": 1703, "height": 504,
      "layer": [
        {"data": {"name": "obs"}, "transform": [{"filter": "datum.o == '23871'"}], "mark": {"type": "rect", "color": "#d62728", "opacity": 0.065},
         "encoding": {"x": {"field": "a", "type": "quantitative", "scale": {"domain": [82.2, 732.6], "nice": false, "zero": false},
           "axis": {"values": [120,180,240,300,360,420,480,540,600,660,720], "grid": true, "gridColor": "#b0b0b0", "gridWidth": 1.5,
             "gridDash": {"condition": {"test": "datum.value % 120 == 60", "value": [6, 4]}, "value": []},
             "tickSize": 21, "tickOpacity": {"condition": {"test": "datum.value % 120 == 0", "value": 1}, "value": 0}, "labels": false, "title": null}},
           "x2": {"field": "b"}}},
        {"data": {"name": "edges"}, "mark": {"type": "rule", "color": "black", "strokeWidth": 1.5}, "encoding": {"x": {"field": "m", "type": "quantitative"}}},
        {"data": {"name": "p2fit"}, "mark": {"type": "line", "color": "#444444", "strokeWidth": 4.5},
         "encoding": {"x": {"field": "m", "type": "quantitative"}, "y": {"field": "v", "type": "quantitative", "scale": {"domain": [17.68, 30.39], "nice": false, "zero": false},
           "axis": {"values": [18, 20, 22, 24, 26, 28, 30], "format": "d", "title": "Temperature"}}}},
        {"data": {"name": "p2"}, "mark": {"type": "line", "strokeWidth": 4.5, "interpolate": "step-after"},
         "encoding": {"x": {"field": "m", "type": "quantitative"}, "y": {"field": "v", "type": "quantitative"},
           "color": {"field": "s", "type": "nominal", "scale": {"domain": ["2CHTRPZT", "2CEAHVPT", "2DTSTATT", "2DCENTRT"], "range": ["#1f77b4", "#ff7f0e", "#2ca02c", "#d62728"]},
             "legend": {"orient": "none", "legendX": 15, "legendY": 11, "title": null, "columns": 2, "columnPadding": 85, "rowPadding": 8,
               "symbolType": "M-1,0H4.333", "symbolSize": 576, "symbolStrokeWidth": 4.5, "labelOffset": 59}}}},
        {"data": {"name": "p2note"}, "mark": {"type": "rect", "fill": "white", "stroke": "black", "strokeWidth": 2},
         "encoding": {"x": {"field": "m0", "type": "quantitative"}, "x2": {"field": "m1"}, "y": {"field": "y0", "type": "quantitative"}, "y2": {"field": "y1"}}},
        {"data": {"name": "p2note"}, "mark": {"type": "text", "align": "left", "baseline": "top", "fontSize": 20, "lineHeight": 23, "lineBreak": "\n", "color": "black"},
         "encoding": {"x": {"field": "tx", "type": "quantitative"}, "y": {"field": "ty", "type": "quantitative"}, "text": {"field": "txt"}}}
      ]
    },
    {
      "width": 1703, "height": 504,
      "layer": [
        {"data": {"name": "obs"}, "transform": [{"filter": "datum.o == '23871'"}], "mark": {"type": "rect", "color": "#d62728", "opacity": 0.065},
         "encoding": {"x": {"field": "a", "type": "quantitative", "scale": {"domain": [82.2, 732.6], "nice": false, "zero": false},
           "axis": {"values": [120,180,240,300,360,420,480,540,600,660,720], "grid": true, "gridColor": "#b0b0b0", "gridWidth": 1.5,
             "gridDash": {"condition": {"test": "datum.value % 120 == 60", "value": [6, 4]}, "value": []},
             "tickSize": 21, "tickOpacity": {"condition": {"test": "datum.value % 120 == 0", "value": 1}, "value": 0}, "labels": false, "title": null}},
           "x2": {"field": "b"}}},
        {"data": {"name": "edges"}, "mark": {"type": "rule", "color": "black", "strokeWidth": 1.5}, "encoding": {"x": {"field": "m", "type": "quantitative"}}},
        {"data": {"name": "p3"}, "mark": {"type": "area", "color": "#1f77b4"},
         "encoding": {"x": {"field": "m", "type": "quantitative"}, "y": {"field": "bh", "type": "quantitative", "scale": {"type": "log", "domain": [10, 60300], "nice": false},
           "axis": {"values": [10, 100, 1000, 10000], "title": "Rate",
             "labelExpr": "datum.value == 10 ? '10¹' : datum.value == 100 ? '10²' : datum.value == 1000 ? '10³' : '10⁴'"}},
           "y2": {"field": "bl"}}},
        {"data": {"name": "p3"}, "mark": {"type": "area", "color": "#ff7f0e"},
         "encoding": {"x": {"field": "m", "type": "quantitative"}, "y": {"field": "oh", "type": "quantitative"}, "y2": {"field": "ol"}}},
        {"data": {"name": "p3"}, "mark": {"type": "area", "color": "#2ca02c"},
         "encoding": {"x": {"field": "m", "type": "quantitative"}, "y": {"field": "gh", "type": "quantitative"}, "y2": {"field": "gl"}}},
        {"data": {"name": "p3"}, "mark": {"type": "line", "strokeWidth": 1},
         "encoding": {"x": {"field": "m", "type": "quantitative"}, "y": {"field": "bh", "type": "quantitative"},
           "color": {"datum": "2TLEV1RT", "type": "nominal", "scale": {"domain": ["2TLEV1RT", "2VLEV1RT", "2SHEV1RT"], "range": ["#1f77b4", "#ff7f0e", "#2ca02c"]},
             "legend": {"orient": "none", "legendX": 736, "legendY": 392, "title": null, "rowPadding": 8,
               "symbolType": "M-1,0H4.333", "symbolSize": 576, "symbolStrokeWidth": 2.5, "labelOffset": 59}}}},
        {"data": {"name": "p3"}, "mark": {"type": "line", "strokeWidth": 1},
         "encoding": {"x": {"field": "m", "type": "quantitative"}, "y": {"field": "oh", "type": "quantitative"}, "color": {"datum": "2VLEV1RT", "type": "nominal"}}},
        {"data": {"name": "p3"}, "mark": {"type": "line", "strokeWidth": 1},
         "encoding": {"x": {"field": "m", "type": "quantitative"}, "y": {"field": "gh", "type": "quantitative"}, "color": {"datum": "2SHEV1RT", "type": "nominal"}}},
        {"data": {"name": "p3spk"}, "transform": [{"filter": "datum.s == '2TLEV1RT'"}], "mark": {"type": "rect", "color": "#1f77b4"},
         "encoding": {"x": {"field": "m0", "type": "quantitative"}, "x2": {"field": "m1"}, "y": {"field": "lo", "type": "quantitative"}, "y2": {"field": "hi"}}},
        {"data": {"name": "p3spk"}, "transform": [{"filter": "datum.s == '2VLEV1RT'"}], "mark": {"type": "rect", "color": "#ff7f0e"},
         "encoding": {"x": {"field": "m0", "type": "quantitative"}, "x2": {"field": "m1"}, "y": {"field": "lo", "type": "quantitative"}, "y2": {"field": "hi"}}},
        {"data": {"name": "p3spk"}, "transform": [{"filter": "datum.s == '2SHEV1RT'"}], "mark": {"type": "rect", "color": "#2ca02c"},
         "encoding": {"x": {"field": "m0", "type": "quantitative"}, "x2": {"field": "m1"}, "y": {"field": "lo", "type": "quantitative"}, "y2": {"field": "hi"}}},
        {"data": {"name": "logminor"}, "mark": {"type": "rule", "strokeWidth": 1.5, "color": "black"},
         "encoding": {"x": {"datum": 82.2, "type": "quantitative"}, "x2": {"datum": 79.1}, "y": {"field": "t", "type": "quantitative"}}}
      ]
    },
    {
      "width": 1703, "height": 504,
      "layer": [
        {"data": {"name": "obs"}, "transform": [{"filter": "datum.o == '23871'"}], "mark": {"type": "rect", "color": "#d62728", "opacity": 0.065},
         "encoding": {"x": {"field": "a", "type": "quantitative", "scale": {"domain": [82.2, 732.6], "nice": false, "zero": false},
           "axis": {"values": [120,180,240,300,360,420,480,540,600,660,720], "grid": true, "gridColor": "#b0b0b0", "gridWidth": 1.5,
             "gridDash": {"condition": {"test": "datum.value % 120 == 60", "value": [6, 4]}, "value": []},
             "tickSize": 21, "tickOpacity": {"condition": {"test": "datum.value % 120 == 0", "value": 1}, "value": 0}, "labels": false, "title": null}},
           "x2": {"field": "b"}}},
        {"data": {"name": "edges"}, "mark": {"type": "rule", "color": "black", "strokeWidth": 1.5}, "encoding": {"x": {"field": "m", "type": "quantitative"}}},
        {"data": {"name": "p4"}, "mark": {"type": "line", "strokeWidth": 4.5},
         "encoding": {"x": {"field": "m", "type": "quantitative"}, "y": {"field": "v", "type": "quantitative", "scale": {"domain": [-20, 20], "nice": false, "zero": false},
           "axis": {"values": [-20, -15, -10, -5, 0, 5, 10, 15, 20], "format": "d", "title": "Volt"}},
           "color": {"field": "s", "type": "nominal", "scale": {"domain": ["2P15VBVL", "2N15VBVL", "2P05VBVL"], "range": ["#1f77b4", "#ff7f0e", "#2ca02c"]},
             "legend": {"orient": "none", "legendX": 731, "legendY": 201, "title": null, "rowPadding": 8,
               "symbolType": "M-1,0H4.333", "symbolSize": 576, "symbolStrokeWidth": 4.5, "labelOffset": 59}}}}
      ]
    },
    {
      "width": 1703, "height": 504,
      "layer": [
        {"data": {"name": "obs"}, "transform": [{"filter": "datum.o == '23871'"}], "mark": {"type": "rect", "color": "#d62728", "opacity": 0.065},
         "encoding": {"x": {"field": "a", "type": "quantitative", "scale": {"domain": [82.2, 732.6], "nice": false, "zero": false},
           "axis": {"values": [120,180,240,300,360,420,480,540,600,660,720], "grid": true, "gridColor": "#b0b0b0", "gridWidth": 1.5,
             "gridDash": {"condition": {"test": "datum.value % 120 == 60", "value": [6, 4]}, "value": []},
             "tickSize": 21, "tickOpacity": {"condition": {"test": "datum.value % 120 == 0", "value": 1}, "value": 0}, "labels": false, "title": null}},
           "x2": {"field": "b"}}},
        {"data": {"name": "edges"}, "mark": {"type": "rule", "color": "black", "strokeWidth": 1.5}, "encoding": {"x": {"field": "m", "type": "quantitative"}}},
        {"data": {"name": "p5"}, "transform": [{"filter": "datum.s == '2IMHVLV'"}], "mark": {"type": "line", "color": "#2ca02c", "strokeWidth": 7.5},
         "encoding": {"x": {"field": "m", "type": "quantitative"}, "y": {"field": "v", "type": "quantitative", "scale": {"domain": [0, 267], "nice": false, "zero": false},
           "axis": {"values": [0, 50, 100, 150, 200, 250], "format": "d", "title": "HV Monitor"}}}},
        {"data": {"name": "p5"}, "transform": [{"filter": "datum.s == '2IMHBLV'"}], "mark": {"type": "line", "color": "#d62728", "strokeWidth": 7.5},
         "encoding": {"x": {"field": "m", "type": "quantitative"}, "y": {"field": "v", "type": "quantitative"}}},
        {"data": {"name": "p5"}, "mark": {"type": "point", "filled": true, "opacity": 1, "size": 50},
         "encoding": {"x": {"field": "m", "type": "quantitative"}, "y": {"field": "v", "type": "quantitative"},
           "color": {"field": "s", "type": "nominal", "scale": {"domain": ["2SPHBLV", "2SPHVLV", "2IMHVLV", "2IMHBLV"], "range": ["#1f77b4", "#ff7f0e", "#2ca02c", "#d62728"]},
             "legend": {"orient": "none", "legendX": 740, "legendY": 361, "title": null, "rowPadding": 10,
               "symbolType": "circle", "symbolSize": 60, "symbolOffset": 12, "labelOffset": 44}}}}
      ]
    },
    {
      "width": 1703, "height": 504,
      "layer": [
        {"data": {"name": "obs"}, "transform": [{"filter": "datum.o == '23871'"}], "mark": {"type": "rect", "color": "#d62728", "opacity": 0.065},
         "encoding": {"x": {"field": "a", "type": "quantitative", "scale": {"domain": [82.2, 732.6], "nice": false, "zero": false},
           "axis": {"values": [120,180,240,300,360,420,480,540,600,660,720], "grid": true, "gridColor": "#b0b0b0", "gridWidth": 1.5,
             "gridDash": {"condition": {"test": "datum.value % 120 == 60", "value": [6, 4]}, "value": []},
             "tickSize": 21, "tickOpacity": {"condition": {"test": "datum.value % 120 == 0", "value": 1}, "value": 0}, "labels": false, "title": null}},
           "x2": {"field": "b"}}},
        {"data": {"name": "edges"}, "mark": {"type": "rule", "color": "black", "strokeWidth": 1.5}, "encoding": {"x": {"field": "m", "type": "quantitative"}}},
        {"data": {"name": "p6"}, "mark": {"type": "line", "strokeWidth": 4.5, "interpolate": "step-after", "clip": true},
         "encoding": {"x": {"field": "m", "type": "quantitative"}, "y": {"field": "v", "type": "quantitative", "scale": {"domain": [16.7, 35], "nice": false, "zero": false},
           "axis": {"values": [17.5, 20, 22.5, 25, 27.5, 30, 32.5, 35], "format": ".1f", "title": "Detector Temp"}},
           "color": {"field": "s", "type": "nominal", "scale": {"domain": ["2SPINATM", "2SPHVATM", "2IMINATM", "2IMHVATM"], "range": ["#1f77b4", "#ff7f0e", "#2ca02c", "#d62728"]},
             "legend": {"orient": "none", "legendX": 729, "legendY": 184, "title": null, "rowPadding": 8,
               "symbolType": "M-1,0H4.333", "symbolSize": 576, "symbolStrokeWidth": 4.5, "labelOffset": 59}}}}
      ]
    },
    {
      "width": 1703, "height": 504,
      "layer": [
        {"data": {"name": "obs"}, "transform": [{"filter": "datum.o == '23871'"}], "mark": {"type": "rect", "color": "#d62728", "opacity": 0.065},
         "encoding": {"x": {"field": "a", "type": "quantitative", "scale": {"domain": [82.2, 732.6], "nice": false, "zero": false},
           "axis": {"values": [120,180,240,300,360,420,480,540,600,660,720], "grid": true, "gridColor": "#b0b0b0", "gridWidth": 1.5,
             "gridDash": {"condition": {"test": "datum.value % 120 == 60", "value": [6, 4]}, "value": []},
             "tickSize": 21, "tickOpacity": {"condition": {"test": "datum.value % 120 == 0", "value": 1}, "value": 0},
             "labelExpr": "datum.value % 120 == 0 ? (datum.value < 600 ? '0' : '') + (datum.value / 60) + 'h' : ''",
             "labelFontSize": 22, "labelPadding": 2, "title": "2021-10-18 (291)", "titleFontSize": 23, "titlePadding": 3}},
           "x2": {"field": "b"}}},
        {"data": {"name": "edges"}, "mark": {"type": "rule", "color": "black", "strokeWidth": 1.5}, "encoding": {"x": {"field": "m", "type": "quantitative"}}},
        {"data": {"name": "p7"}, "mark": {"type": "line", "strokeWidth": 4.5, "interpolate": "step-after", "clip": true},
         "encoding": {"x": {"field": "m", "type": "quantitative"}, "y": {"field": "v", "type": "quantitative", "scale": {"domain": [17.62, 28.47], "nice": false, "zero": false},
           "axis": {"values": [18, 20, 22, 24, 26, 28], "format": "d", "title": "FEA Temp"}},
           "color": {"field": "s", "type": "nominal", "scale": {"domain": ["2FHTRMZT", "2FRADPYT", "2FEPRATM", "2FE00ATM"], "range": ["#1f77b4", "#ff7f0e", "#2ca02c", "#d62728"]},
             "legend": {"orient": "none", "legendX": 15, "legendY": 11, "title": null, "rowPadding": 8,
               "symbolType": "M-1,0H4.333", "symbolSize": 576, "symbolStrokeWidth": 4.5, "labelOffset": 59}}}},
        {"data": {"name": "minorhours"}, "mark": {"type": "text", "baseline": "middle", "align": "center", "fontSize": 15, "color": "black"},
         "encoding": {"x": {"field": "m", "type": "quantitative"}, "y": {"datum": 17.39, "type": "quantitative"}, "text": {"field": "lab"}}}
      ]
    }
  ]
}
